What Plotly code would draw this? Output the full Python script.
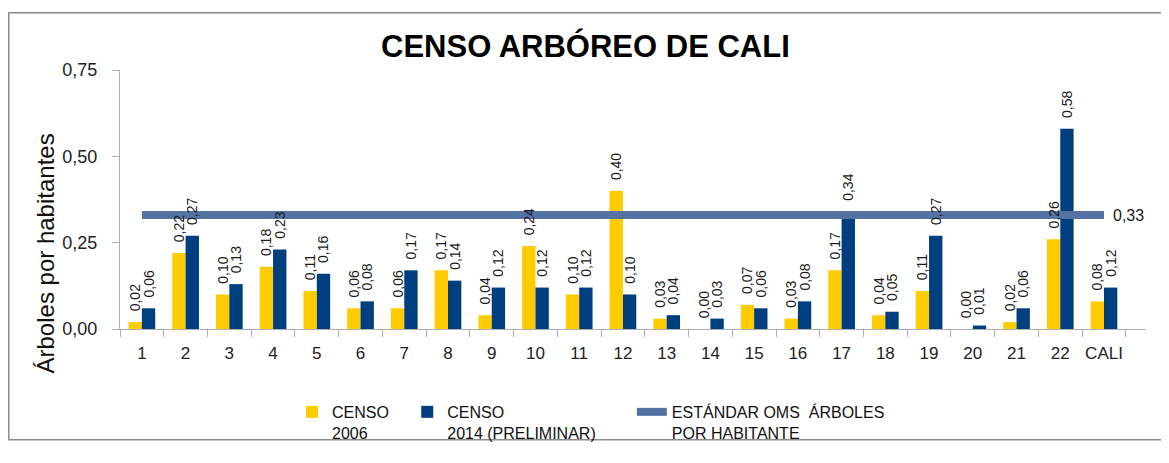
import plotly.graph_objects as go

categories = [str(i) for i in range(1, 23)] + ["CALI"]
censo_2006 = [0.02, 0.22, 0.10, 0.18, 0.11, 0.06, 0.06, 0.17, 0.04, 0.24, 0.10, 0.40,
              0.03, 0.00, 0.07, 0.03, 0.17, 0.04, 0.11, 0.00, 0.02, 0.26, 0.08]
censo_2014 = [0.06, 0.27, 0.13, 0.23, 0.16, 0.08, 0.17, 0.14, 0.12, 0.12, 0.12, 0.10,
              0.04, 0.03, 0.06, 0.08, 0.34, 0.05, 0.27, 0.01, 0.06, 0.58, 0.12]
estandar_oms = 0.33
y_ticks = [0, 0.25, 0.5, 0.75]
y_tick_labels = ["0,00", "0,25", "0,50", "0,75"]

NB = "\u00a0"

def fmt(v):
    return f"{v:.2f}".replace(".", ",")

FONT = "Liberation Sans, Arial, sans-serif"
# page body has an 8px margin: figure coordinates = screen coordinates - 8
OFF = 8
W, H = 1158, 454
L, R, T, B = 120 - OFF, W - (1146 - OFF), 70 - OFF, H - (341 - OFF)
PW, PH = W - L - R, H - T - B

def px(sx):
    return (sx - OFF - L) / PW

def py(sy):
    return (H - B - (sy - OFF)) / PH

YELLOW, BLUE, LINE = "#FFCC00", "#003F7F", "#5472A2"

fig = go.Figure()
fig.add_trace(go.Bar(x=categories, y=censo_2006, name="CENSO" + NB * 3 + "<br>2006",
                     marker=dict(color=YELLOW, line=dict(width=0)), hoverinfo="skip"))
fig.add_trace(go.Bar(x=categories, y=censo_2014, name="CENSO<br>2014 (PRELIMINAR)" + NB * 7,
                     marker=dict(color=BLUE, line=dict(width=0)), hoverinfo="skip"))
fig.add_trace(go.Scatter(x=categories, y=[estandar_oms] * len(categories), mode="lines",
                         name="ESTÁNDAR OMS  ÁRBOLES<br>POR HABITANTE",
                         line=dict(color=LINE, width=8), hoverinfo="skip"))
# data labels on an overlay subplot, so they sit above the line
for vals in (censo_2006, censo_2014):
    fig.add_trace(go.Bar(
        x=categories, y=vals, xaxis="x2", yaxis="y2", showlegend=False,
        marker=dict(color="rgba(0,0,0,0)", line=dict(width=0)), hoverinfo="skip",
        text=[NB * 2 + fmt(v) for v in vals], textposition="outside", textangle=-90,
        textfont=dict(size=14, color="#1a1a1a", family=FONT), constraintext="none",
        cliponaxis=False,
    ))

fig.add_annotation(x=categories[-1], y=estandar_oms, xref="x", yref="y",
                   text=fmt(estandar_oms), showarrow=False, xanchor="left",
                   xshift=7, font=dict(size=16, color="#1a1a1a", family=FONT))

fig.add_annotation(x=px(585), y=py(45), xref="paper", yref="paper",
                   text="<b>CENSO ARBÓREO DE CALI</b>", showarrow=False,
                   xanchor="center", yanchor="middle",
                   font=dict(size=31, color="#000", family=FONT))
fig.add_annotation(x=px(45), y=py(262), xref="paper", yref="paper",
                   text="Árboles por habitantes", showarrow=False, textangle=-90,
                   xanchor="center", yanchor="middle",
                   font=dict(size=24, color="#111", family=FONT))

fig.add_shape(type="rect", xref="paper", yref="paper",
              x0=px(8.8), x1=px(1162), y0=py(457), y1=py(10),
              line=dict(color="#8c8c8c", width=1.5))

fig.update_layout(
    width=W, height=H,
    margin=dict(l=L, r=R, t=T, b=B),
    paper_bgcolor="white", plot_bgcolor="white",
    barmode="group", bargap=0.39, bargroupgap=0,
    font=dict(family=FONT, color="#222"),
    showlegend=True,
    legend=dict(orientation="h", x=px(292), y=py(410), xanchor="left", yanchor="top",
                font=dict(size=16, color="#111", family=FONT), valign="top",
                itemwidth=30, bgcolor="rgba(0,0,0,0)", traceorder="normal"),
    xaxis=dict(type="category", showline=True, linecolor="#b0b0b0", linewidth=1,
               ticks="outside", tickson="boundaries", ticklen=7, tickcolor="#b0b0b0",
               showgrid=False, tickangle=0, ticklabelstandoff=9,
               tickfont=dict(size=17, color="#222", family=FONT)),
    yaxis=dict(range=[0, 0.75], tickvals=y_ticks, ticktext=y_tick_labels,
               showline=True, linecolor="#b0b0b0", linewidth=1, ticks="outside",
               ticklen=7, tickcolor="#b0b0b0", showgrid=False, zeroline=False,
               ticklabelstandoff=11,
               tickfont=dict(size=18, color="#222", family=FONT)),
    xaxis2=dict(type="category", overlaying="x", matches="x", visible=False,
                showgrid=False),
    yaxis2=dict(overlaying="y", matches="y", range=[0, 0.75], visible=False,
                showgrid=False, zeroline=False),
)

fig.write_html("out.html")
